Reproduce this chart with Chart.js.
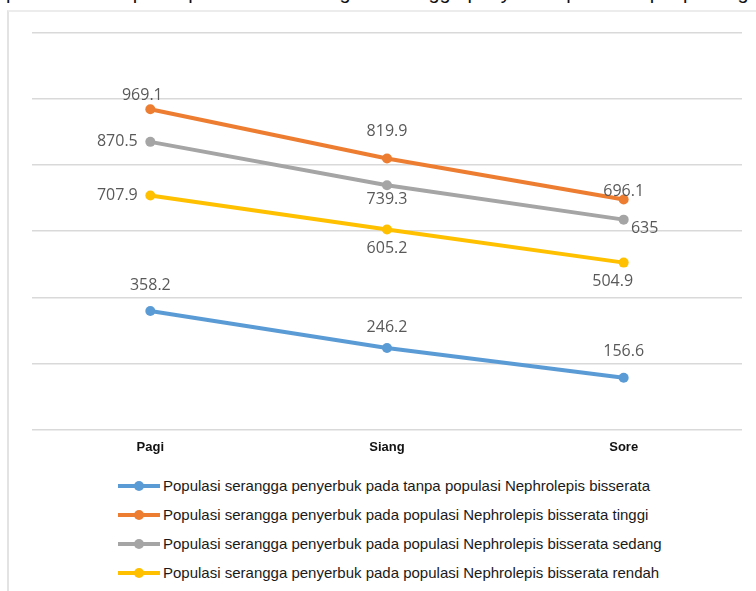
<!DOCTYPE html>
<html lang="id">
<head>
    <meta charset="UTF-8">
    <title>Populasi Serangga Penyerbuk</title>
    <script src="https://cdn.jsdelivr.net/npm/chart.js"></script>
    <style>
        body {
            margin: 0;
            padding: 0;
            width: 756px;
            height: 591px;
            overflow: hidden;
            background: #fff;
            position: relative;
            font-family: "Liberation Sans", Arial, sans-serif;
        }
        #caption {
            position: absolute;
            left: 0;
            top: 0;
            width: 756px;
            height: 8px;
            overflow: hidden;
        }
        #caption span {
            position: absolute;
            left: 6px;
            top: -19px;
            font-size: 20px;
            white-space: nowrap;
            color: #111;
        }
        #frame {
            position: absolute;
            left: 7px;
            top: 10px;
            width: 760px;
            height: 600px;
            border-left: 2px solid #e3e3e3;
            border-top: 2px solid #ececec;
        }
        #chartBox {
            position: absolute;
            left: 0;
            top: 0;
            width: 756px;
            height: 469px;
        }
        #legend {
            position: absolute;
            left: 118px;
            top: 471px;
            font-size: 15px;
            color: #1a1a1a;
        }
        .item {
            height: 29px;
            display: flex;
            align-items: center;
        }
        .swatch {
            position: relative;
            width: 42px;
            height: 4px;
            margin-right: 3px;
        }
        .swatch i {
            position: absolute;
            left: 16px;
            top: -3px;
            width: 10px;
            height: 10px;
            border-radius: 50%;
        }
    </style>
</head>
<body>
    <div id="caption"><span>pertemuan Nephrolepis bisserata dengan serangga penyerbuk pada tempat pasang a</span></div>
    <div id="frame"></div>
    <div id="chartBox"><canvas id="lineChart"></canvas></div>
    <div id="legend"></div>
    <script>
        const categories = ['Pagi', 'Siang', 'Sore'];
        const seriesNames = [
            'Populasi serangga penyerbuk pada tanpa populasi Nephrolepis bisserata',
            'Populasi serangga penyerbuk pada populasi Nephrolepis bisserata tinggi',
            'Populasi serangga penyerbuk pada populasi Nephrolepis bisserata sedang',
            'Populasi serangga penyerbuk pada populasi Nephrolepis bisserata rendah'
        ];
        const tanpa = [358.2, 246.2, 156.6];
        const tinggi = [969.1, 819.9, 696.1];
        const sedang = [870.5, 739.3, 635];
        const rendah = [707.9, 605.2, 504.9];

        const colors = ['#5B9BD5', '#ED7D31', '#A5A5A5', '#FFC000'];
        // label offsets (dx, dy) from each point, like the Excel placement
        const labelOffsets = [
            [[0, -26], [0, -21], [0, -26]],
            [[-8, -14], [0, -27], [0, -8]],
            [[-33, 0], [0, 14], [21, 9]],
            [[-33, 0], [0, 19], [-11, 19]]
        ];

        const seriesValues = [tanpa, tinggi, sedang, rendah];

        const valueLabels = {
            id: 'valueLabels',
            afterDatasetsDraw(chart) {
                const ctx = chart.ctx;
                ctx.save();
                ctx.font = '16px "Open Sans", "Noto Sans", sans-serif';
                ctx.fillStyle = '#595959';
                ctx.textAlign = 'center';
                ctx.textBaseline = 'middle';
                chart.data.datasets.forEach((ds, i) => {
                    chart.getDatasetMeta(i).data.forEach((pt, j) => {
                        const off = labelOffsets[i][j];
                        ctx.fillText(String(ds.data[j]), pt.x + off[0], pt.y + off[1]);
                    });
                });
                ctx.restore();
            }
        };

        const ctx = document.getElementById('lineChart').getContext('2d');
        const chart = new Chart(ctx, {
            type: 'line',
            data: {
                labels: categories,
                datasets: seriesValues.map((vals, i) => ({
                    label: seriesNames[i],
                    data: vals,
                    borderColor: colors[i],
                    backgroundColor: colors[i],
                    borderWidth: 4,
                    pointRadius: 5,
                    pointHoverRadius: 5,
                    pointBorderWidth: 0,
                    tension: 0,
                    fill: false
                }))
            },
            options: {
                responsive: true,
                maintainAspectRatio: false,
                animation: false,
                events: [],
                layout: { padding: { left: 32, right: 14, top: 33, bottom: 4 } },
                plugins: {
                    legend: { display: false },
                    tooltip: { enabled: false }
                },
                scales: {
                    x: {
                        offset: true,
                        grid: { display: false, drawTicks: false },
                        border: { display: false },
                        ticks: {
                            padding: 10,
                            color: '#111',
                            font: { family: '"Liberation Sans", Arial, sans-serif', size: 13, weight: 'bold' }
                        }
                    },
                    y: {
                        min: 0,
                        max: 1200,
                        grid: { color: '#d9d9d9', lineWidth: 1.5, drawTicks: false },
                        border: { display: false },
                        ticks: { display: false, stepSize: 200 }
                    }
                }
            },
            plugins: [valueLabels]
        });

        // legend in html so that the entries line up on the left
        const legendEl = document.getElementById('legend');
        seriesNames.forEach((name, i) => {
            const row = document.createElement('div');
            row.className = 'item';
            row.innerHTML = '<span class="swatch" style="background:' + colors[i] + '"><i style="background:' + colors[i] + '"></i></span>' + name;
            legendEl.appendChild(row);
        });
    </script>
</body>
</html>
